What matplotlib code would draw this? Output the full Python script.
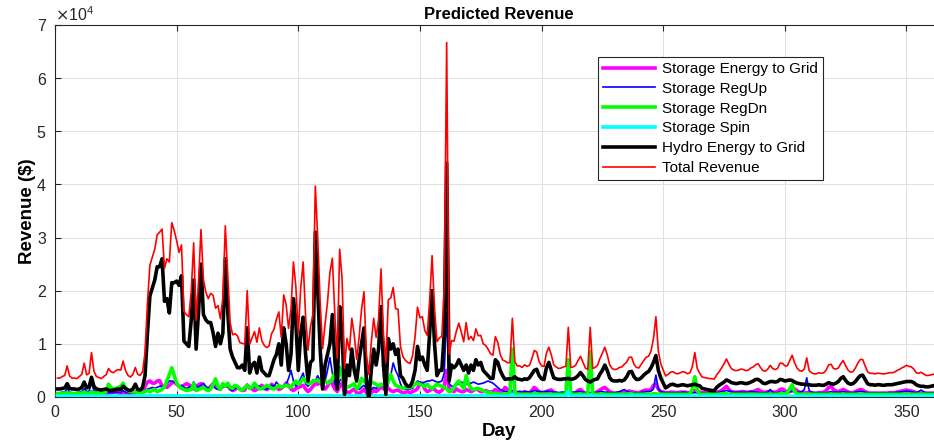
import matplotlib
matplotlib.use("Agg")
import matplotlib.pyplot as plt
import numpy as np

plt.rcParams["font.family"] = ["Liberation Sans", "DejaVu Sans"]

# Daily revenue per stream in thousands of $, days 1..365
hydro_k = [
    1.5, 1.5, 1.6, 1.7, 2.5, 1.6, 1.5, 1.5, 1.4, 1.5, 1.8, 2.8, 1.7, 1.9, 3.7, 2.0, 1.5, 1.4, 1.3, 1.4,
    1.5, 1.3, 1.2, 1.3, 1.4, 1.5, 1.4, 2.0, 1.6, 1.3, 1.2, 1.5, 2.4, 1.4, 1.3, 1.8, 4.0, 12.0, 19.0, 20.5,
    22.0, 24.5, 24.5, 26.0, 18.0, 18.5, 15.8, 21.5, 21.5, 21.8, 21.0, 22.8, 10.5, 10.0, 9.5, 14.5, 22.0, 9.0, 16.0, 25.0,
    15.5, 14.5, 14.0, 14.0, 12.0, 9.5, 12.0, 10.0, 12.0, 26.0, 16.0, 9.0, 7.5, 6.5, 5.5, 5.5, 6.0, 5.0, 13.0, 4.5,
    6.0, 6.5, 4.5, 7.5, 5.0, 4.5, 4.0, 4.0, 5.5, 7.0, 8.0, 10.0, 6.0, 13.0, 10.0, 5.0, 8.0, 18.5, 14.0, 5.0,
    12.0, 15.0, 8.0, 3.0, 6.5, 7.0, 31.0, 20.0, 9.0, 1.5, 6.0, 8.0, 10.0, 15.5, 7.0, 1.5, 17.0, 12.0, 0.5, 6.0,
    4.0, 9.0, 5.0, 3.0, 7.0, 10.0, 13.0, 3.0, -0.5, 5.0, 9.0, 6.0, 9.0, 17.0, 6.0, 0.5, 11.0, 9.0, 10.0, 8.0,
    9.0, 4.0, 3.5, 2.5, 2.0, 2.0, 3.0, 5.0, 9.5, 7.0, 7.5, 6.0, 5.0, 12.0, 20.0, 10.0, 4.0, 5.0, 5.0, 12.0,
    44.0, 3.0, 6.0, 5.5, 6.0, 7.0, 6.0, 5.0, 6.0, 4.5, 6.0, 5.0, 7.0, 6.0, 6.5, 5.0, 4.5, 4.0, 3.5, 3.5,
    7.0, 6.5, 5.0, 4.0, 3.3, 3.4, 3.4, 3.4, 3.8, 3.4, 3.3, 3.2, 3.4, 3.3, 3.6, 4.3, 5.0, 5.2, 4.0, 3.4,
    3.3, 5.5, 6.5, 5.0, 3.6, 3.4, 3.3, 3.3, 3.4, 3.4, 3.5, 3.3, 3.4, 3.6, 4.0, 4.6, 4.0, 3.3, 3.0, 2.8,
    3.1, 3.3, 3.4, 4.3, 5.0, 6.0, 5.0, 3.6, 3.1, 3.0, 3.0, 3.1, 3.0, 3.2, 3.8, 4.7, 4.8, 3.8, 3.3, 3.3,
    3.6, 4.1, 4.5, 4.8, 5.5, 6.5, 7.8, 5.0, 3.6, 2.6, 1.7, 2.0, 2.3, 2.4, 2.2, 2.1, 2.2, 2.3, 2.2, 2.1,
    2.2, 2.3, 2.4, 2.2, 2.1, 1.6, 1.5, 1.4, 1.3, 1.2, 1.2, 1.8, 2.2, 2.5, 2.8, 3.2, 3.0, 2.7, 2.6, 2.5,
    2.6, 2.7, 2.6, 2.5, 2.6, 2.8, 3.0, 3.3, 3.3, 3.0, 2.6, 2.5, 2.7, 2.9, 2.9, 2.8, 2.9, 3.3, 3.2, 3.0,
    3.1, 3.2, 3.1, 2.8, 2.6, 2.5, 2.4, 2.4, 2.3, 2.3, 2.2, 2.2, 2.2, 2.3, 2.2, 2.2, 2.4, 2.7, 2.5, 2.4,
    2.6, 2.9, 3.5, 3.8, 3.1, 2.6, 2.4, 2.5, 2.9, 3.5, 4.0, 4.1, 3.3, 2.5, 2.3, 2.3, 2.2, 2.3, 2.3, 2.2,
    2.2, 2.3, 2.3, 2.3, 2.4, 2.5, 2.6, 2.7, 2.8, 2.9, 2.9, 2.9, 2.7, 2.3, 2.1, 2.0, 2.0, 1.9, 1.9, 2.0,
    2.1, 2.2, 2.1, 2.0, 1.9,
]
energy_k = [
    0.5, 0.5, 0.6, 0.6, 0.8, 0.6, 0.5, 0.5, 0.5, 0.6, 0.6, 0.9, 0.6, 0.6, 1.0, 0.7, 0.6, 0.6, 0.5, 0.6,
    0.6, 0.7, 0.8, 0.9, 0.9, 0.8, 0.7, 0.8, 0.7, 0.6, 0.6, 0.7, 0.8, 0.9, 0.9, 1.0, 2.0, 2.8, 3.0, 2.6,
    2.6, 3.0, 3.1, 2.0, 2.0, 1.8, 2.2, 2.6, 2.8, 2.4, 2.0, 1.8, 2.2, 2.5, 2.3, 1.8, 1.5, 2.0, 2.3, 2.5,
    2.0, 1.6, 1.5, 2.0, 2.5, 2.0, 1.6, 1.5, 2.0, 2.0, 2.2, 1.5, 1.2, 1.4, 1.8, 1.5, 1.2, 1.3, 2.2, 1.8,
    1.5, 1.2, 1.4, 1.8, 2.2, 1.8, 1.4, 1.6, 2.4, 2.0, 1.8, 1.4, 1.6, 2.0, 2.6, 2.2, 1.5, 1.2, 1.6, 1.8,
    2.0, 2.2, 1.5, 1.0, 1.4, 2.0, 2.5, 2.4, 2.8, 2.0, 1.5, 2.0, 3.0, 2.5, 1.5, 1.0, 2.0, 2.6, 1.0, 1.0,
    0.8, 1.2, 1.5, 0.8, 0.6, 1.0, 1.4, 0.8, 0.5, 0.8, 1.2, 1.0, 1.4, 2.0, 1.5, 2.4, 1.6, 1.2, 1.0, 1.2,
    1.3, 1.0, 0.8, 0.9, 1.0, 0.8, 1.0, 1.2, 1.6, 2.5, 2.6, 1.5, 1.0, 1.2, 1.6, 1.4, 1.0, 0.9, 1.2, 2.0,
    5.0, 1.4, 1.2, 1.0, 1.5, 1.2, 1.0, 1.0, 1.4, 1.2, 1.0, 1.2, 1.5, 1.3, 1.0, 1.0, 1.2, 1.0, 0.9, 1.0,
    1.4, 1.2, 1.0, 1.1, 1.8, 1.4, 0.8, 0.7, 0.6, 0.8, 0.9, 0.8, 1.0, 0.8, 0.8, 1.2, 1.8, 1.4, 1.0, 0.8,
    0.8, 1.0, 1.2, 1.3, 0.9, 0.7, 0.6, 0.6, 0.7, 0.8, 0.8, 0.7, 0.7, 0.8, 1.2, 1.4, 1.0, 0.7, 0.6, 0.6,
    0.7, 0.8, 1.0, 1.3, 1.6, 1.8, 1.4, 1.0, 0.8, 0.7, 0.7, 0.8, 0.8, 0.9, 1.0, 1.1, 1.0, 0.9, 0.8, 0.8,
    1.0, 1.2, 1.3, 1.2, 1.4, 2.2, 2.4, 1.5, 1.0, 0.9, 0.8, 0.8, 0.9, 0.9, 0.8, 0.8, 0.9, 0.9, 0.9, 0.8,
    0.8, 1.0, 1.2, 1.0, 0.9, 0.8, 0.8, 0.8, 0.8, 0.8, 0.7, 0.9, 1.0, 1.2, 1.6, 2.0, 1.4, 1.0, 0.9, 0.9,
    0.9, 1.0, 1.0, 0.9, 0.9, 1.0, 1.0, 1.2, 1.4, 1.1, 0.9, 0.9, 1.0, 1.0, 0.9, 0.9, 1.0, 1.4, 1.5, 1.2,
    0.9, 1.0, 1.3, 1.5, 1.2, 0.9, 0.8, 0.8, 0.8, 0.8, 0.8, 0.7, 0.7, 0.8, 0.8, 0.9, 1.2, 1.8, 2.0, 1.4,
    1.1, 1.0, 1.2, 1.4, 1.2, 0.9, 0.8, 0.8, 1.0, 1.2, 1.4, 1.3, 1.0, 0.8, 0.7, 0.7, 0.7, 0.7, 0.7, 0.7,
    0.7, 0.7, 0.8, 0.8, 0.8, 0.9, 1.0, 1.1, 1.2, 1.3, 1.2, 1.1, 1.0, 0.8, 0.7, 0.7, 0.7, 0.7, 0.7, 0.7,
    0.7, 0.8, 0.8, 0.7, 0.7,
]
regup_k = [
    0.8, 0.8, 0.9, 0.9, 1.6, 0.9, 0.8, 0.8, 0.8, 0.9, 1.0, 1.6, 1.0, 1.1, 2.6, 1.2, 0.9, 0.8, 0.8, 0.9,
    0.9, 0.8, 0.8, 0.8, 0.9, 0.9, 0.8, 1.2, 0.9, 0.8, 0.8, 0.9, 1.2, 0.9, 0.9, 1.0, 1.2, 1.5, 1.6, 1.8,
    1.6, 1.8, 2.0, 2.0, 2.0, 2.5, 3.0, 3.0, 2.8, 2.4, 2.0, 2.2, 1.8, 1.6, 1.8, 2.0, 2.8, 2.0, 1.8, 2.2,
    2.6, 2.0, 1.6, 1.8, 2.0, 1.6, 1.4, 1.6, 2.0, 2.0, 2.0, 1.4, 1.2, 1.6, 2.0, 1.6, 1.4, 1.6, 2.4, 1.8,
    1.6, 1.8, 2.2, 2.0, 1.6, 1.4, 1.5, 1.8, 2.2, 2.0, 2.8, 2.2, 1.6, 2.0, 2.4, 3.5, 5.0, 3.0, 2.0, 2.5,
    3.5, 4.5, 2.5, 2.0, 2.6, 3.2, 3.0, 4.0, 3.0, 2.4, 3.0, 5.0, 7.4, 4.5, 2.5, 1.6, 3.0, 3.5, 1.5, 2.0,
    1.8, 2.2, 2.5, 1.6, 1.4, 1.8, 2.2, 1.5, 1.0, 1.4, 1.8, 1.6, 2.0, 2.5, 2.0, 1.4, 2.5, 4.0, 6.4, 5.0,
    4.0, 2.5, 1.5, 1.5, 1.5, 1.5, 1.6, 2.5, 3.0, 2.8, 2.6, 2.8, 3.0, 3.0, 3.2, 3.0, 2.8, 2.8, 3.0, 4.5,
    16.0, 2.5, 2.0, 2.0, 2.2, 2.5, 2.8, 2.6, 2.4, 2.5, 2.6, 2.8, 2.6, 2.4, 2.5, 2.6, 2.8, 3.0, 2.8, 2.6,
    2.2, 1.8, 1.4, 1.2, 1.0, 1.0, 1.1, 1.2, 1.1, 1.0, 1.0, 0.9, 1.0, 1.0, 0.9, 1.0, 1.2, 1.1, 1.0, 1.0,
    1.0, 1.1, 1.0, 1.0, 0.9, 0.9, 0.8, 0.9, 0.9, 0.8, 0.8, 0.8, 0.9, 0.9, 1.0, 1.0, 0.9, 0.8, 0.8, 0.8,
    0.8, 0.8, 0.9, 1.0, 1.0, 0.9, 0.9, 0.8, 0.8, 0.8, 0.9, 1.0, 1.2, 1.4, 1.1, 0.9, 0.8, 0.8, 0.8, 0.7,
    0.9, 0.9, 1.0, 1.0, 1.1, 1.5, 4.1, 1.5, 1.0, 0.9, 0.8, 0.8, 0.8, 0.8, 0.8, 0.8, 0.8, 0.9, 0.9, 0.8,
    0.8, 0.8, 0.8, 0.8, 0.8, 0.7, 0.7, 0.7, 0.7, 0.8, 0.8, 0.8, 0.9, 1.0, 1.1, 1.2, 1.1, 1.0, 0.9, 0.9,
    0.9, 0.9, 0.9, 0.9, 0.9, 1.0, 1.0, 0.9, 0.9, 0.8, 0.8, 0.8, 0.9, 1.4, 0.9, 0.8, 0.8, 0.9, 0.9, 0.9,
    0.9, 1.0, 1.0, 1.0, 0.9, 0.9, 1.0, 1.4, 3.6, 1.2, 0.9, 0.8, 0.8, 0.8, 0.8, 0.8, 0.8, 0.9, 1.0, 0.9,
    0.9, 0.9, 0.9, 1.0, 0.9, 0.9, 0.8, 0.8, 0.9, 1.0, 1.0, 1.0, 0.9, 0.8, 0.8, 0.8, 0.8, 0.8, 0.8, 0.8,
    0.8, 0.8, 0.8, 0.8, 0.8, 0.9, 0.9, 1.0, 1.0, 1.1, 1.0, 1.0, 0.9, 0.8, 1.0, 1.3, 1.0, 0.8, 0.8, 0.8,
    0.8, 0.8, 0.9, 0.8, 0.8,
]
regdn_k = [
    0.6, 0.6, 0.6, 0.7, 0.8, 0.7, 0.6, 0.6, 0.6, 0.7, 0.7, 0.9, 0.7, 0.7, 0.9, 0.8, 0.7, 0.7, 0.7, 0.8,
    1.0, 2.4, 1.8, 1.4, 1.6, 1.8, 2.0, 2.6, 1.6, 1.2, 1.0, 1.0, 1.0, 0.9, 0.8, 0.8, 1.0, 1.2, 1.0, 1.2,
    1.4, 1.0, 1.2, 1.4, 2.0, 3.0, 4.2, 5.5, 4.0, 2.6, 2.0, 1.6, 1.4, 1.2, 1.3, 1.4, 2.5, 1.2, 1.4, 1.6,
    1.8, 1.4, 1.2, 1.5, 2.4, 3.4, 2.0, 1.4, 2.5, 2.0, 2.6, 1.8, 1.6, 2.2, 2.0, 1.4, 1.3, 1.8, 2.2, 1.6,
    1.8, 2.6, 2.0, 1.5, 1.6, 1.8, 2.2, 2.0, 1.6, 1.5, 1.8, 2.2, 1.8, 2.0, 2.2, 2.0, 1.8, 2.5, 3.0, 2.4,
    2.8, 3.5, 3.0, 2.6, 2.5, 3.0, 3.0, 3.2, 2.8, 3.0, 3.0, 2.6, 2.8, 3.4, 4.5, 3.0, 5.6, 4.0, 2.2, 1.8,
    2.0, 2.2, 2.5, 1.5, 2.0, 3.5, 3.0, 2.5, 3.0, 2.8, 2.6, 2.4, 2.0, 2.4, 2.2, 2.0, 3.0, 4.2, 3.0, 2.2,
    2.0, 1.8, 1.6, 1.8, 1.8, 1.8, 2.0, 2.4, 2.6, 2.4, 2.2, 2.0, 2.4, 1.8, 1.6, 2.0, 2.4, 2.2, 2.0, 1.8,
    1.5, 1.0, 1.2, 1.8, 2.5, 3.0, 2.2, 1.6, 4.0, 2.4, 1.6, 1.4, 1.5, 1.6, 1.4, 1.2, 1.0, 0.8, 0.8, 0.6,
    0.6, 0.6, 0.5, 0.5, 0.5, 0.5, 1.0, 9.0, 1.0, 0.5, 0.5, 0.5, 0.5, 0.5, 0.5, 0.5, 0.6, 0.6, 0.5, 0.5,
    0.5, 0.5, 0.5, 0.5, 0.5, 0.5, 0.5, 0.5, 0.5, 0.6, 7.0, 0.6, 0.5, 0.5, 0.5, 0.5, 0.5, 0.5, 0.6, 8.5,
    0.6, 0.5, 0.5, 0.5, 0.5, 0.5, 0.5, 0.5, 0.5, 0.5, 0.5, 0.5, 0.5, 0.5, 0.5, 0.6, 0.6, 0.5, 0.5, 0.5,
    0.5, 0.5, 0.5, 0.5, 0.5, 0.6, 0.6, 0.5, 0.5, 0.5, 0.5, 0.5, 0.5, 0.5, 0.5, 0.5, 0.5, 0.5, 0.5, 0.5,
    0.6, 1.5, 3.8, 1.2, 0.5, 0.5, 0.5, 0.5, 0.5, 0.5, 0.5, 0.5, 0.5, 0.6, 0.6, 0.6, 0.5, 0.5, 0.5, 0.5,
    0.5, 0.5, 0.5, 0.5, 0.5, 0.5, 0.5, 0.5, 0.5, 0.5, 0.5, 0.5, 0.5, 0.5, 0.5, 0.5, 0.5, 0.6, 0.6, 0.6,
    0.8, 1.5, 2.3, 1.0, 0.6, 0.5, 0.5, 0.5, 0.5, 0.5, 0.5, 0.5, 0.5, 0.5, 0.5, 0.5, 0.5, 0.5, 0.5, 0.5,
    0.5, 0.5, 0.5, 0.5, 0.5, 0.5, 0.5, 0.5, 0.5, 0.5, 0.5, 0.5, 0.5, 0.5, 0.5, 0.5, 0.5, 0.5, 0.5, 0.5,
    0.5, 0.5, 0.5, 0.5, 0.5, 0.5, 0.5, 0.5, 0.5, 0.5, 0.5, 0.5, 0.5, 0.5, 0.5, 0.5, 0.5, 0.5, 0.5, 0.5,
    0.5, 0.5, 0.5, 0.5, 0.5,
]
spin_k = [
    0.15, 0.15, 0.15, 0.15, 0.15, 0.15, 0.15, 0.15, 0.15, 0.15, 0.15, 0.15, 0.15, 0.15, 0.15, 0.15, 0.15, 0.15, 0.15, 0.15,
    0.15, 0.15, 0.15, 0.15, 0.15, 0.15, 0.15, 0.15, 0.15, 0.15, 0.15, 0.15, 0.15, 0.15, 0.15, 0.15, 0.15, 0.2, 0.2, 0.2,
    0.2, 0.2, 0.2, 0.2, 0.2, 0.2, 0.2, 0.2, 0.2, 0.2, 0.2, 0.2, 0.2, 0.2, 0.2, 0.2, 0.2, 0.2, 0.2, 0.2,
    0.2, 0.2, 0.2, 0.2, 0.2, 0.2, 0.2, 0.2, 0.2, 0.2, 0.2, 0.2, 0.2, 0.2, 0.2, 0.2, 0.2, 0.2, 0.2, 0.2,
    0.2, 0.2, 0.2, 0.2, 0.2, 0.2, 0.2, 0.2, 0.2, 0.2, 0.2, 0.2, 0.2, 0.2, 0.2, 0.2, 0.2, 0.2, 0.2, 0.2,
    0.2, 0.2, 0.2, 0.2, 0.2, 0.2, 0.2, 0.2, 0.2, 0.2, 0.2, 0.2, 0.2, 0.2, 0.2, 0.2, 0.2, 0.2, 0.2, 0.2,
    0.2, 0.2, 0.2, 0.2, 0.2, 0.2, 0.2, 0.2, 0.2, 0.2, 0.2, 0.2, 0.2, 0.2, 0.2, 0.2, 0.2, 0.2, 0.2, 0.2,
    0.2, 0.2, 0.2, 0.2, 0.2, 0.2, 0.2, 0.2, 0.2, 0.2, 0.2, 0.2, 0.2, 0.2, 0.2, 0.2, 0.2, 0.2, 0.2, 0.2,
    0.2, 0.2, 0.2, 0.2, 0.2, 0.2, 0.2, 0.2, 0.2, 0.2, 0.2, 0.2, 0.2, 0.2, 0.2, 0.2, 0.2, 0.2, 0.15, 0.15,
    0.15, 0.15, 0.15, 0.15, 0.15, 0.15, 0.15, 0.5, 0.15, 0.15, 0.15, 0.15, 0.15, 0.15, 0.15, 0.15, 0.15, 0.15, 0.15, 0.15,
    0.15, 0.15, 0.15, 0.15, 0.15, 0.15, 0.15, 0.15, 0.15, 0.15, 1.0, 0.15, 0.15, 0.15, 0.15, 0.15, 0.15, 0.15, 0.15, 0.4,
    0.15, 0.15, 0.15, 0.15, 0.15, 0.15, 0.15, 0.15, 0.15, 0.15, 0.15, 0.15, 0.15, 0.15, 0.15, 0.15, 0.3, 0.15, 0.15, 0.15,
    0.15, 0.15, 0.15, 0.15, 0.15, 0.15, 0.2, 0.15, 0.15, 0.15, 0.15, 0.15, 0.15, 0.15, 0.15, 0.15, 0.15, 0.15, 0.15, 0.15,
    0.15, 0.15, 0.15, 0.15, 0.15, 0.15, 0.15, 0.15, 0.15, 0.15, 0.15, 0.15, 0.15, 0.15, 0.15, 0.15, 0.15, 0.15, 0.15, 0.15,
    0.15, 0.15, 0.15, 0.15, 0.15, 0.15, 0.15, 0.15, 0.15, 0.15, 0.15, 0.15, 0.15, 0.15, 0.15, 0.15, 0.15, 0.15, 0.15, 0.15,
    0.15, 0.15, 0.15, 0.15, 0.15, 0.15, 0.15, 0.15, 0.15, 0.15, 0.15, 0.15, 0.15, 0.15, 0.15, 0.15, 0.15, 0.15, 0.15, 0.15,
    0.15, 0.15, 0.15, 0.15, 0.15, 0.15, 0.15, 0.15, 0.15, 0.15, 0.15, 0.15, 0.15, 0.15, 0.15, 0.15, 0.15, 0.15, 0.15, 0.15,
    0.15, 0.15, 0.15, 0.15, 0.15, 0.15, 0.15, 0.15, 0.15, 0.15, 0.15, 0.15, 0.15, 0.15, 0.15, 0.15, 0.15, 0.15, 0.15, 0.15,
    0.15, 0.15, 0.15, 0.15, 0.15,
]

names = ["Storage Energy to Grid", "Storage RegUp", "Storage RegDn",
         "Storage Spin", "Hydro Energy to Grid", "Total Revenue"]
colors = ["#ff00ff", "#0000ff", "#00ff00", "#00ffff", "#000000", "#ff0000"]
widths = [2.6, 1.2, 2.6, 2.6, 2.6, 1.2]

parts = [energy_k, regup_k, regdn_k, spin_k, hydro_k]
assert all(len(p) == len(hydro_k) for p in parts), [len(p) for p in parts]
parts = [np.array(p) * 1000 for p in parts]
total = np.sum(parts, axis=0)
days = np.arange(1, len(hydro_k) + 1)

fig = plt.figure(figsize=(9.34, 4.46), dpi=100)
ax = fig.add_axes([0.0589, 0.110, 0.9507, 0.834])

for i, y in enumerate(parts + [total]):
    ax.plot(days, y, color=colors[i], lw=widths[i], label=names[i], zorder=2 + i)

ax.set_xlim(0, 365)
ax.set_ylim(0, 7e4)
ax.set_xticks(np.arange(0, 351, 50))
ax.set_yticks(np.arange(0, 7.01e4, 1e4))
ax.ticklabel_format(axis="y", style="sci", scilimits=(4, 4), useMathText=True)
ax.yaxis.get_offset_text().set_fontsize(11.5)
ax.yaxis.get_offset_text().set_color("#262626")

ax.grid(True, color="#dedede", lw=0.7)
ax.set_axisbelow(True)
ax.tick_params(direction="in", top=True, right=True, labelsize=11.5,
               colors="#262626", length=4, width=0.8, pad=6)
for s in ax.spines.values():
    s.set_color("#262626")
    s.set_linewidth(0.8)

ax.set_title("Predicted Revenue", fontsize=12, fontweight="bold", pad=4)
ax.set_xlabel("Day", fontsize=13.5, fontweight="bold", labelpad=2)
ax.set_ylabel("Revenue ($)", fontsize=13.5, fontweight="bold", labelpad=0)

leg = ax.legend(loc="upper left", bbox_to_anchor=(0.611, 0.915), fontsize=11,
                handlelength=3.4, fancybox=False, framealpha=1, edgecolor="#262626",
                borderpad=0.35, labelspacing=0.38, handletextpad=0.45, borderaxespad=0)
leg.get_frame().set_linewidth(0.8)

fig.savefig("out.png", dpi=100)
